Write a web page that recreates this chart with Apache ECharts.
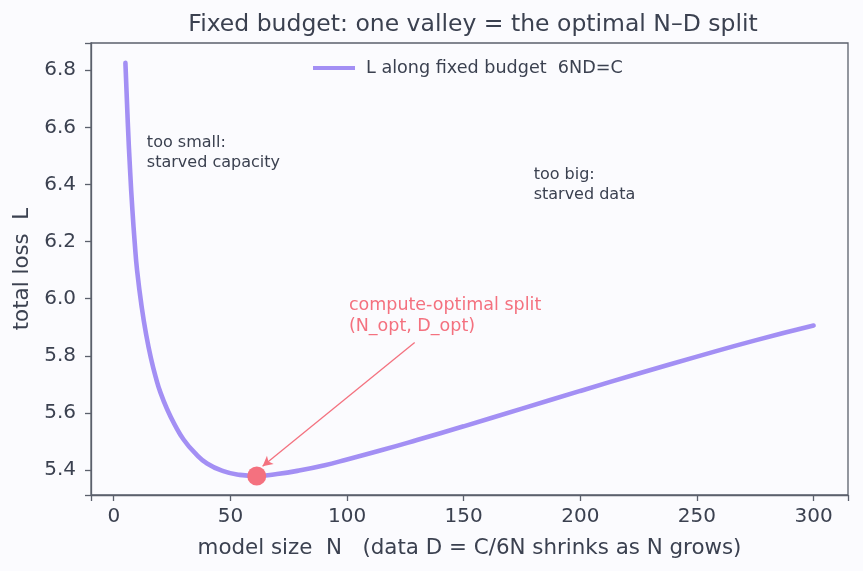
<!DOCTYPE html>
<html>
<head>
<meta charset="utf-8">
<title>Fixed budget valley</title>
<script src="https://cdn.jsdelivr.net/npm/echarts@6/dist/echarts.min.js"></script>
<style>
    html, body { margin: 0; padding: 0; background: #fbfbfe; }
    #budget_valley { width: 863px; height: 571px; }
</style>
</head>
<body>
<div id="budget_valley"></div>
<script>
// Chart data
// ------------------------------

// model size N along the fixed budget curve
var modelSizes = [5, 6, 7, 8, 9, 10, 12, 14, 16, 18, 20, 23, 26, 30, 35, 40, 47, 54, 61,
    70, 80, 90, 100, 115, 130, 150, 175, 200, 225, 250, 275, 300];

// total loss L
var totalLoss = [6.826, 6.62, 6.45, 6.31, 6.195, 6.10, 5.97, 5.87, 5.79, 5.725, 5.672, 5.611, 5.561, 5.506, 5.458, 5.423, 5.396, 5.383, 5.379,
    5.386, 5.399, 5.416, 5.437, 5.470, 5.505, 5.553, 5.615, 5.677, 5.738, 5.797, 5.854, 5.906];

// compute-optimal point
var optimalPoint = [61.3, 5.379];

// arrow from the label to the point
var arrowFrom = [129, 5.847];
var arrowTo = [63.8, 5.413];

// tick labels
var xTicks = [0, 50, 100, 150, 200, 250, 300];
var yTicks = [5.4, 5.6, 5.8, 6.0, 6.2, 6.4, 6.6, 6.8];

// text notes: [N, L, text]
var notes = [
    [14.2, 6.51, 'too small:\nstarved capacity'],
    [180, 6.398, 'too big:\nstarved data']
];
var optimalNote = [100.8, 5.94, 'compute-optimal split\n(N_opt, D_opt)'];


var EchartsBudgetValley = function() {

    var _budgetValleyExample = function() {
        if (typeof echarts == 'undefined') {
            console.warn('Warning - echarts.min.js is not loaded.');
            return;
        }

        var valley_element = document.getElementById('budget_valley');
        if (!valley_element) {
            return;
        }

        var valley = echarts.init(valley_element);

        var textColor = '#3b4150';
        var axisColor = '#5b606c';
        var lineColor = '#a38ff4';
        var pinkColor = '#f4717f';

        var curve = modelSizes.map(function(n, i) {
            return [n, totalLoss[i]];
        });

        // Plain notes go in as invisible points with a label
        var noteMarks = notes.map(function(note) {
            return {
                coord: [note[0], note[1]],
                symbolSize: 0,
                label: {
                    show: true,
                    position: [0, 0],
                    align: 'left',
                    verticalAlign: 'middle',
                    formatter: note[2],
                    color: textColor,
                    fontSize: 16,
                    lineHeight: 20,
                    fontFamily: 'DejaVu Sans'
                }
            };
        });
        noteMarks.push({
            coord: [optimalNote[0], optimalNote[1]],
            symbolSize: 0,
            label: {
                show: true,
                position: [0, 0],
                align: 'left',
                verticalAlign: 'middle',
                formatter: optimalNote[2],
                color: pinkColor,
                fontSize: 17.5,
                lineHeight: 21,
                fontFamily: 'DejaVu Sans'
            }
        });

        var axisLineStyle = {
            show: true,
            onZero: false,
            lineStyle: { color: axisColor, width: 1.3 }
        };

        var tickStyle = {
            show: true,
            inside: false,
            length: 6,
            lineStyle: { color: axisColor, width: 1.3 }
        };

        valley.setOption({
            backgroundColor: '#fbfbfe',
            animation: false,

            textStyle: {
                fontFamily: 'DejaVu Sans',
                color: textColor
            },

            title: {
                text: 'Fixed budget: one valley = the optimal N\u2013D split',
                left: 468,
                textAlign: 'center',
                top: 8,
                textStyle: {
                    fontFamily: 'DejaVu Sans',
                    fontWeight: 'normal',
                    fontSize: 23.5,
                    color: textColor
                }
            },

            grid: {
                show: true,
                left: 91,
                right: 15,
                top: 43,
                bottom: 76,
                borderColor: axisColor,
                borderWidth: 1.3,
                backgroundColor: 'transparent'
            },

            legend: {
                data: [{ name: 'L along fixed budget  6ND=C', icon: 'rect' }],
                left: 313,
                top: 59,
                padding: 0,
                itemWidth: 42,
                itemHeight: 4,
                textStyle: {
                    fontSize: 17.6,
                    color: textColor,
                    padding: [0, 0, 0, 6]
                }
            },

            xAxis: {
                type: 'value',
                min: -9.75,
                max: 314.75,
                splitNumber: 6,
                name: 'model size  N   (data D = C/6N shrinks as N grows)',
                nameLocation: 'middle',
                nameGap: 43,
                nameTextStyle: {
                    fontSize: 21.4,
                    color: textColor
                },
                axisLine: axisLineStyle,
                axisTick: tickStyle,
                axisLabel: {
                    customValues: xTicks,
                    margin: 12,
                    fontSize: 20,
                    color: textColor
                },
                splitLine: { show: false }
            },

            yAxis: {
                type: 'value',
                min: 5.3125,
                max: 6.8955,
                splitNumber: 8,
                name: 'total loss  L',
                nameLocation: 'middle',
                nameRotate: 90,
                nameGap: 57,
                nameTextStyle: {
                    fontSize: 21.4,
                    color: textColor
                },
                axisLine: axisLineStyle,
                axisTick: tickStyle,
                axisLabel: {
                    customValues: yTicks,
                    margin: 15,
                    fontSize: 20,
                    color: textColor,
                    formatter: function(v) {
                        return v.toFixed(1);
                    }
                },
                splitLine: { show: false }
            },

            series: [
                {
                    name: 'L along fixed budget  6ND=C',
                    type: 'line',
                    data: curve,
                    smooth: 0.5,
                    showSymbol: false,
                    color: lineColor,
                    lineStyle: {
                        width: 4.6,
                        color: lineColor,
                        cap: 'round'
                    },
                    z: 2
                },
                {
                    name: 'optimum',
                    type: 'scatter',
                    data: [optimalPoint],
                    symbolSize: 19,
                    itemStyle: { color: pinkColor, opacity: 1 },
                    z: 4,
                    markLine: {
                        silent: true,
                        symbol: ['none', 'arrow'],
                        symbolSize: [8, 10],
                        label: { show: false },
                        lineStyle: {
                            type: 'solid',
                            color: pinkColor,
                            width: 1.3
                        },
                        data: [[{ coord: arrowFrom }, { coord: arrowTo }]]
                    },
                    markPoint: {
                        silent: true,
                        symbol: 'circle',
                        data: noteMarks
                    }
                }
            ]
        });

        var resizeCharts;
        window.addEventListener('resize', function() {
            clearTimeout(resizeCharts);
            resizeCharts = setTimeout(function () {
                valley.resize();
            }, 200);
        });
    };

    return {
        init: function() {
            _budgetValleyExample();
        }
    }
}();

document.addEventListener('DOMContentLoaded', function() {
    EchartsBudgetValley.init();
});
</script>
</body>
</html>
